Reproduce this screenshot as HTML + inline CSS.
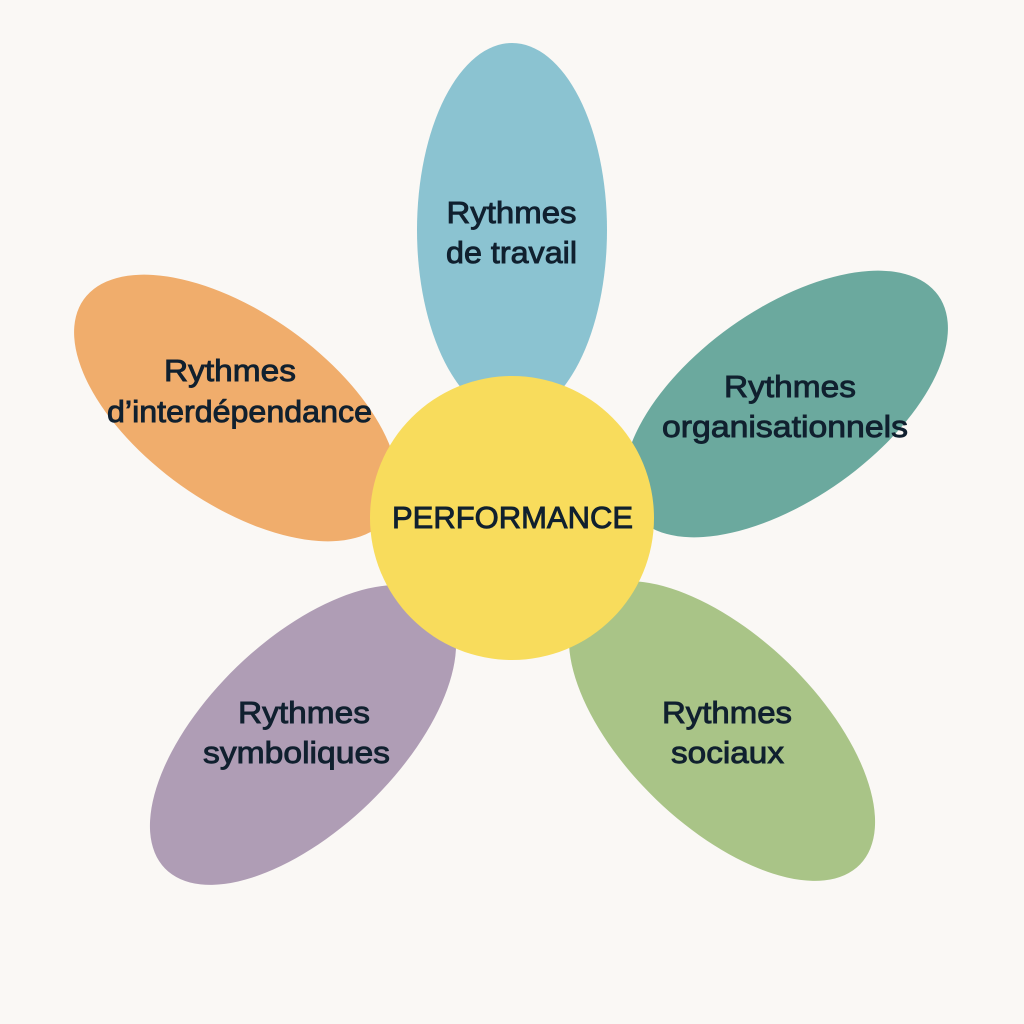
<!DOCTYPE html>
<html>
<head>
<meta charset="utf-8">
<style>
  html, body { margin: 0; padding: 0; background: #FAF8F5; }
  svg { display: block; }
  text {
    font-family: "Liberation Sans", "DejaVu Sans", sans-serif;
    font-size: 31px;
    fill: #10202F;
    stroke: #10202F;
    stroke-width: 0.9px;
    text-anchor: middle;
  }
</style>
</head>
<body>
<svg width="1024" height="1024" viewBox="0 0 1024 1024" xmlns="http://www.w3.org/2000/svg">
  <rect x="0" y="0" width="1024" height="1024" fill="#FAF8F5"/>

  <!-- Petals -->
  <ellipse cx="512" cy="230" rx="95" ry="187" fill="#8BC3D1"/>
  <ellipse cx="786" cy="404" rx="187" ry="95" fill="#6BA99E" transform="rotate(-35.5 786 404)"/>
  <ellipse cx="236" cy="408" rx="187" ry="95" fill="#F0AD6C" transform="rotate(35.5 236 408)"/>
  <ellipse cx="303" cy="735" rx="192" ry="95" fill="#AF9DB5" transform="rotate(-44 303 735)"/>
  <ellipse cx="722" cy="731" rx="192" ry="95" fill="#A9C487" transform="rotate(44 722 731)"/>

  <!-- Center -->
  <circle cx="512" cy="518" r="142" fill="#F8DC5C"/>

  <!-- Labels -->
  <text x="511.5" y="223" textLength="130" lengthAdjust="spacingAndGlyphs">Rythmes</text>
  <text x="511.5" y="263" textLength="131" lengthAdjust="spacingAndGlyphs">de travail</text>

  <text x="790" y="397" textLength="132" lengthAdjust="spacingAndGlyphs">Rythmes</text>
  <text x="785" y="437" textLength="246" lengthAdjust="spacingAndGlyphs">organisationnels</text>

  <text x="230" y="381" textLength="132" lengthAdjust="spacingAndGlyphs">Rythmes</text>
  <text x="239.5" y="422" textLength="265" lengthAdjust="spacingAndGlyphs">d’interdépendance</text>

  <text x="304" y="723" textLength="132" lengthAdjust="spacingAndGlyphs">Rythmes</text>
  <text x="296.5" y="763" textLength="187" lengthAdjust="spacingAndGlyphs">symboliques</text>

  <text x="727" y="723" textLength="130" lengthAdjust="spacingAndGlyphs">Rythmes</text>
  <text x="727.5" y="763" textLength="113" lengthAdjust="spacingAndGlyphs">sociaux</text>

  <text x="512.5" y="528" textLength="241" lengthAdjust="spacingAndGlyphs">PERFORMANCE</text>
</svg>
</body>
</html>
